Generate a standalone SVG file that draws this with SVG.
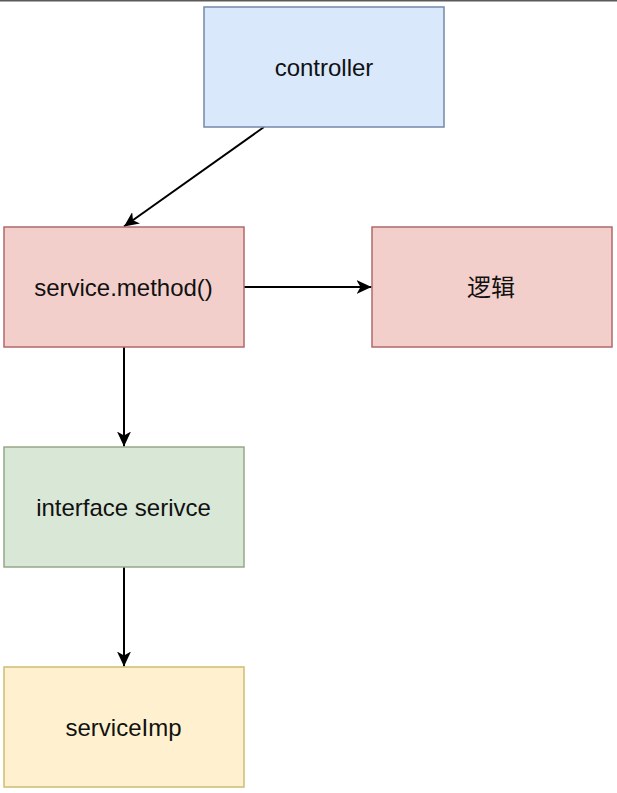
<svg xmlns="http://www.w3.org/2000/svg" width="617" height="793" viewBox="0 0 617 793">
  <defs>
    <marker id="arrow" markerUnits="userSpaceOnUse" markerWidth="16" markerHeight="14" viewBox="0 0 16 14" refX="15" refY="7" orient="auto">
      <path d="M0,0 L15,7 L0,14 L4,7 Z" fill="#000"/>
    </marker>
  </defs>
  <style>
    .box { stroke-width: 1.5; }
    .blue { fill: #dae8fc; stroke: #7488a8; }
    .red { fill: #f3cfcc; stroke: #b06a6a; }
    .green { fill: #d9e7d6; stroke: #97a886; }
    .yellow { fill: #fff1cf; stroke: #cdbd72; }
    .label { font-family: "Liberation Sans", Arial, "Noto Sans CJK SC", sans-serif; font-size: 24px; fill: #111; text-anchor: middle; }
    .edge { fill: none; stroke: #000; stroke-width: 2; marker-end: url(#arrow); }
  </style>
  <rect x="0" y="0" width="617" height="793" fill="#ffffff"/>
  <line x1="0" y1="0.75" x2="617" y2="0.75" stroke="#5a5a5a" stroke-width="1.5"/>
  <g id="connectors">
    <line class="edge" x1="264" y1="127" x2="124" y2="226.5"/>
    <line class="edge" x1="244" y1="287" x2="371.5" y2="287"/>
    <line class="edge" x1="124" y1="347" x2="124" y2="446.5"/>
    <line class="edge" x1="124" y1="567" x2="124" y2="666.5"/>
  </g>
  <g id="controller">
    <rect class="box blue" x="204" y="7" width="240" height="120"/>
    <text class="label" x="324" y="75.5">controller</text>
  </g>
  <g id="service-method">
    <rect class="box red" x="4" y="227" width="240" height="120"/>
    <text class="label" x="123.5" y="295.5">service.method()</text>
  </g>
  <g id="logic">
    <rect class="box red" x="372" y="227" width="240" height="120"/>
    <text class="label" x="491" y="295.5">逻辑</text>
  </g>
  <g id="interface-service">
    <rect class="box green" x="4" y="447" width="240" height="120"/>
    <text class="label" x="123.5" y="515.5">interface serivce</text>
  </g>
  <g id="service-imp">
    <rect class="box yellow" x="4" y="667" width="240" height="120"/>
    <text class="label" x="123.5" y="735.5">serviceImp</text>
  </g>
</svg>
